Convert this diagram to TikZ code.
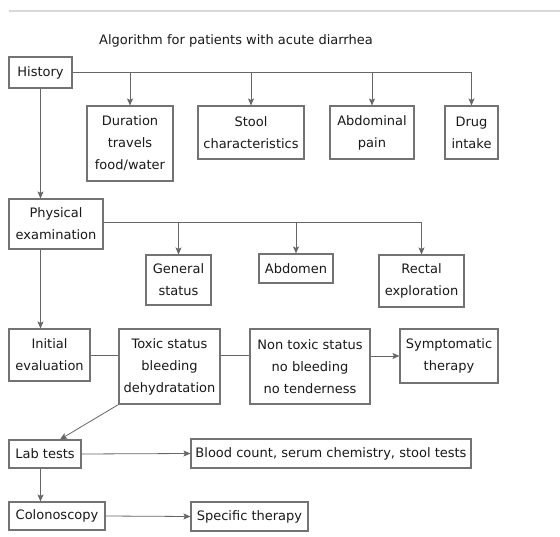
\documentclass[tikz,border=0pt]{standalone}
\usepackage{fontspec}
\setmainfont{DejaVu Sans}
\usetikzlibrary{arrows.meta}
\begin{document}
\begin{tikzpicture}[x=1pt,y=-1pt,
  font=\fontsize{13}{22}\selectfont,
  box/.style={draw=black!55, line width=1.1pt, fill=white, text=black!90, align=center, inner sep=0pt},
  conn/.style={draw=black!60, line width=0.8pt},
  arr/.style={conn, -{Stealth[length=7pt,width=6pt,inset=1.5pt]}}]
\useasboundingbox (0,0) rectangle (560,537);
\draw[black!15, line width=2.5pt] (9,11) -- (560,11);
\node[text=black!90] (title) at (236,41) {Algorithm for patients with acute diarrhea};
% row 1
\node[box, minimum width=63, minimum height=31] (hist) at (40.5,72.5) {History};
\node[box, minimum width=86, minimum height=75] (dur) at (130,143.5) {Duration\\travels\\food/water};
\node[box, minimum width=106, minimum height=53] (stool) at (251,132.5) {Stool\\characteristics};
\node[box, minimum width=84, minimum height=53] (abd) at (372,132.5) {Abdominal\\pain};
\node[box, minimum width=53, minimum height=53] (drug) at (471.5,132.5) {Drug\\intake};
% row 2
\node[box, minimum width=94, minimum height=50] (phys) at (56,224) {Physical\\examination};
\node[box, minimum width=65, minimum height=50] (gen) at (178.5,280) {General\\status};
\node[box, minimum width=74, minimum height=29] (abdo) at (296,268.5) {Abdomen};
\node[box, minimum width=85, minimum height=52] (rect) at (421.5,281) {Rectal\\exploration};
% row 3
\node[box, minimum width=81, minimum height=52] (init) at (49.5,355) {Initial\\evaluation};
\node[box, minimum width=101, minimum height=75] (tox) at (169.5,366.5) {Toxic status\\bleeding\\dehydratation};
\node[box, minimum width=120, minimum height=75] (non) at (310,366.5) {Non toxic status\\no bleeding\\no tenderness};
\node[box, minimum width=98, minimum height=54] (sym) at (449,356) {Symptomatic\\therapy};
% row 4
\node[box, minimum width=72, minimum height=28] (lab) at (45,454) {Lab tests};
\node[box, minimum width=280, minimum height=29] (blood) at (331,453.5) {Blood count, serum chemistry, stool tests};
\node[box, minimum width=96, minimum height=28] (colo) at (57,516) {Colonoscopy};
\node[box, minimum width=117, minimum height=29] (spec) at (249.5,516.5) {Specific therapy};
\coordinate (pe) at ([yshift=2pt]phys.east);
\coordinate (lt) at ([xshift=15pt]lab.north);
% connectors
\draw[arr] (hist.east) -| (drug.north);
\draw[arr] (dur.north |- hist.east) -- (dur.north);
\draw[arr] (stool.north |- hist.east) -- (stool.north);
\draw[arr] (abd.north |- hist.east) -- (abd.north);
\draw[arr] (hist.south) -- (hist.south |- phys.north);
\draw[arr] (pe) -| (rect.north);
\draw[arr] (gen.north |- pe) -- (gen.north);
\draw[arr] (abdo.north |- pe) -- (abdo.north);
\draw[arr] (phys.south -| hist.south) -- (init.north -| hist.south);
\draw[conn] (init.east) -- (init.east -| tox.west);
\draw[conn] (init.east -| tox.east) -- (init.east -| non.west);
\draw[arr] (sym.west -| non.east) -- (sym.west);
\draw[arr] (tox.south west) -- (lt);
\draw[arr] (lab.east) -- (blood.west);
\draw[arr] (lab.south -| hist.south) -- (colo.north -| hist.south);
\draw[arr] (colo.east) -- (spec.west);
\end{tikzpicture}
\end{document}
